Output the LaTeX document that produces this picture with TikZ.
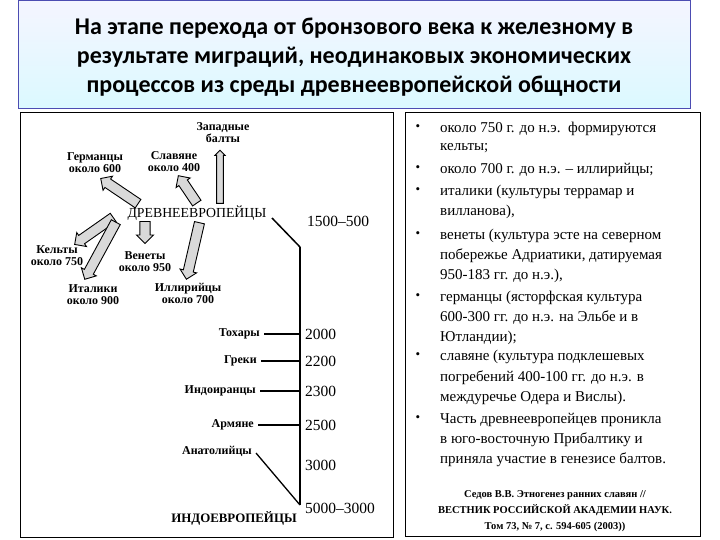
\documentclass[tikz,border=0pt]{standalone}
\usepackage{fontspec}
\setmainfont{Liberation Serif}
\newfontfamily\titlefont{Carlito}
\usetikzlibrary{shapes.arrows}
\begin{document}
\begin{tikzpicture}[x=1pt,y=-1pt,
  lbl/.style={font=\bfseries\fontsize{12}{12}\selectfont, align=center, inner sep=0pt},
  yr/.style={font=\fontsize{15.5}{16}\selectfont, anchor=west, inner sep=0pt},
  tl/.style={font=\fontsize{15}{15}\selectfont, anchor=west, inner sep=0pt},
  bl/.style={font=\fontsize{13}{13}\selectfont, inner sep=0pt},
  fatarrow/.style={single arrow, draw=black, line width=0.9pt, fill=gray!30, inner sep=4pt, minimum width=17pt, single arrow head extend=3pt},
  tick/.style={line width=1.3pt}]
\useasboundingbox (0,0) rectangle (720,540);
\fill[white] (0,0) rectangle (720,540);
% title
\node[draw=blue!40!gray, top color=blue!4, bottom color=blue!16!cyan!14, minimum width=672pt, minimum height=108pt, anchor=north west, inner sep=0pt] (title) at (18,0) {};
\node[font=\titlefont\bfseries\fontsize{24}{29}\selectfont, align=center] (tt) at (354,57) {На этапе перехода от бронзового века к железному в\\результате миграций, неодинаковых экономических\\процессов из среды древнеевропейской общности};
% boxes
\node[draw, line width=0.6pt, minimum width=373pt, minimum height=425pt, anchor=north west, inner sep=0pt] (lbox) at (20,112) {};
\node[draw, line width=0.6pt, minimum width=295pt, minimum height=424pt, anchor=north west, inner sep=0pt] (rbox) at (405,112) {};
% left diagram
\node[lbl] (zb) at (223,133) {Западные\\балты};
\node[lbl] (ge) at (95,163) {Германцы\\около 600};
\node[lbl] (sl) at (174,162) {Славяне\\около 400};
\node[font=\fontsize{13.8}{14}\selectfont, inner sep=0pt] (dr) at (197,213) {ДРЕВНЕЕВРОПЕЙЦЫ};
\node[yr] (y1) at (307,221) {1500--500};
\node[lbl] (ke) at (57,256) {Кельты\\около 750};
\node[lbl] (ve) at (145,262) {Венеты\\около 950};
\node[lbl] (it) at (93,295) {Италики\\около 900};
\node[lbl] (il) at (188,293) {Иллирийцы\\около 700};
% arrows
\node[fatarrow, minimum height=45pt, rotate=146] (aG) at (121.5,192.5) {};
\node[fatarrow, minimum height=33pt, rotate=124] (aS) at (189,191.5) {};
\node[fatarrow, minimum height=47pt, rotate=215] (aK) at (96,229.5) {};
\node[fatarrow, minimum height=65pt, rotate=241.5] (aI) at (101.5,248.5) {};
\node[fatarrow, minimum height=22pt, rotate=270] (aV) at (145,230) {};
\node[fatarrow, minimum height=58pt, rotate=257] (aL) at (193.5,248.5) {};
\node[fatarrow, minimum height=53pt, inner sep=2.5pt, minimum width=10pt, single arrow head extend=1.5pt, rotate=90] (aB) at (220,178.5) {};
% trunk
\coordinate (t0) at (272,218);
\coordinate (t1) at (300,247);
\coordinate (t2) at (300,505);
\draw[line width=1.5pt] (t0) -- (t1);
\draw[line width=2.8pt] (t1) -- (t2);
\node[lbl, anchor=east] (to) at (260,334) {Тохары};
\node[lbl, anchor=east] (gr) at (257,361) {Греки};
\node[lbl, anchor=east] (ii) at (256,391) {Индоиранцы};
\node[lbl, anchor=east] (ar) at (254,425) {Армяне};
\node[lbl, anchor=east] (an) at (252,451) {Анатолийцы};
\draw[tick] (to.east)+(4,0) -- (300,334);
\draw[tick] (gr.east)+(4,0) -- (300,361);
\draw[tick] (ii.east)+(4,0) -- (300,391);
\draw[tick] (ar.east)+(4,0) -- (300,425);
\draw[tick] (an.east)+(4,2) -- (t2);
\node[yr] (y2) at (305,334) {2000};
\node[yr] (y3) at (305,361) {2200};
\node[yr] (y4) at (305,391) {2300};
\node[yr] (y5) at (305,425) {2500};
\node[yr] (y6) at (305,465) {3000};
\node[yr] (y7) at (305,508) {5000--3000};
\node[lbl, font=\bfseries\fontsize{12.9}{13}\selectfont] (ie) at (234,518) {ИНДОЕВРОПЕЙЦЫ};
% right text
\foreach \y in {128,169,191,235,297,356,419} \node[bl] at (418,\y) {•};
\node[tl] (r1) at (440,129) {около 750 г. до н.э.\ \ формируются};
\node[tl] (r2) at (440,148) {кельты;};
\node[tl] (r3) at (440,170) {около 700 г. до н.э. – иллирийцы;};
\node[tl] (r4) at (440,192) {италики (культуры террамар и};
\node[tl] (r5) at (440,212) {вилланова),};
\node[tl] (r6) at (440,236) {венеты (культура эсте на северном};
\node[tl] (r7) at (440,256) {побережье Адриатики, датируемая};
\node[tl] (r8) at (440,276) {950-183 гг. до н.э.),};
\node[tl] (r9) at (440,298) {германцы (ясторфская культура};
\node[tl] (r10) at (440,318) {600-300 гг. до н.э. на Эльбе и в};
\node[tl] (r11) at (440,338) {Ютландии);};
\node[tl] (r12) at (440,357) {славяне (культура подклешевых};
\node[tl] (r13) at (440,378) {погребений 400-100 гг. до н.э. в};
\node[tl] (r14) at (440,398) {междуречье Одера и Вислы).};
\node[tl] (r15) at (440,420) {Часть древнеевропейцев проникла};
\node[tl] (r16) at (440,440) {в юго-восточную Прибалтику и};
\node[tl] (r17) at (440,460) {приняла участие в генезисе балтов.};
\node[font=\bfseries\fontsize{10.5}{16}\selectfont, align=center] (cit) at (555,511) {Седов В.В. Этногенез ранних славян //\\ВЕСТНИК РОССИЙСКОЙ АКАДЕМИИ НАУК.\\Том 73, № 7, с. 594-605 (2003))};
\end{tikzpicture}
\end{document}
